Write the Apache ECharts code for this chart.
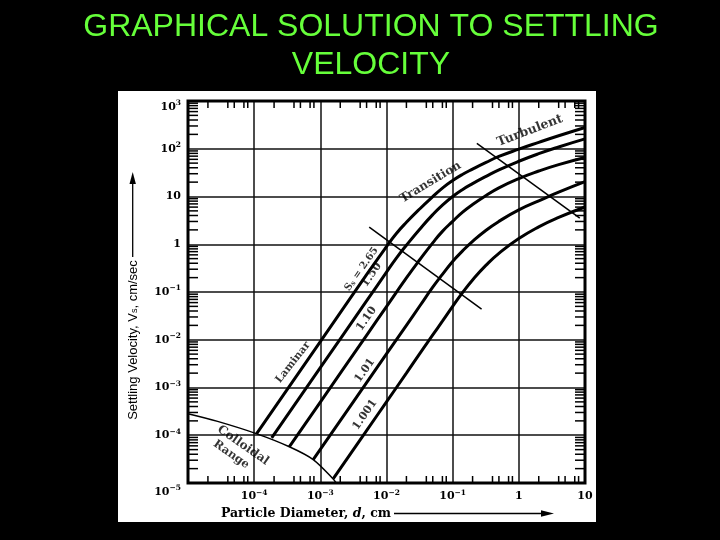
<!DOCTYPE html>
<html><head><meta charset="utf-8">
<script src="https://cdn.jsdelivr.net/npm/echarts@6/dist/echarts.min.js"></script>
<style>html,body{margin:0;padding:0;background:#000;}#c{width:720px;height:540px;}</style>
</head><body><div id="c"></div>
<script>
// ---------- data ----------
const titleText = 'GRAPHICAL SOLUTION TO SETTLING\nVELOCITY';
const xTickExps = [-5, -4, -3, -2, -1, 0, 1];
const yTickExps = [-5, -4, -3, -2, -1, 0, 1, 2, 3];
const minorMultX = [2, 4, 5, 7, 8];
const minorMultY = [2, 3, 4, 5, 6, 7, 8, 9];

// particle diameter d (cm), settling velocity Vs (cm/s)
const sg265 = [[1.09e-4, 1.08e-4], [1e-3, 9.1e-3], [5.0e-3, 0.23], [0.01, 0.89], [0.014, 1.66], [0.02, 2.88], [0.032, 5.55], [0.05, 9.9], [0.07, 15.0], [0.1, 21.6], [0.14, 28.9], [0.2, 37.5], [0.32, 51.8], [0.5, 68.9], [1, 98], [2, 136], [4, 187], [10, 279]];
const sg150 = [[1.84e-4, 8.8e-5], [1e-3, 2.6e-3], [5.0e-3, 0.065], [0.01, 0.26], [0.014, 0.507], [0.02, 0.955], [0.032, 2.09], [0.05, 4.17], [0.07, 6.6], [0.1, 10], [0.14, 13.9], [0.2, 18.6], [0.32, 26.4], [0.5, 36.1], [1, 54.7], [2, 78.9], [4, 109], [10, 161]];
const sg110 = [[3.39e-4, 5.7e-5], [1e-3, 4.95e-4], [5.0e-3, 0.0124], [0.01, 0.0495], [0.02, 0.197], [0.032, 0.479], [0.05, 1.07], [0.07, 1.86], [0.1, 3.02], [0.14, 4.65], [0.2, 6.8], [0.32, 10.5], [0.5, 15.2], [1, 23.8], [2, 34.2], [4, 46.6], [10, 65.6]];
const sg101 = [[7.8e-4, 3.1e-5], [3.0e-3, 4.55e-4], [0.01, 5.06e-3], [0.02, 0.0201], [0.032, 0.0515], [0.05, 0.126], [0.07, 0.234], [0.1, 0.437], [0.14, 0.716], [0.2, 1.15], [0.32, 1.97], [0.5, 3.01], [1, 5.25], [2, 8.1], [4, 12.3], [10, 20.4]];
const sg1001 = [[1.57e-3, 1.23e-5], [5.0e-3, 1.25e-4], [0.01, 5.0e-4], [0.02, 2.0e-3], [0.032, 5.2e-3], [0.05, 0.0126], [0.07, 0.0245], [0.1, 0.05], [0.14, 0.096], [0.2, 0.179], [0.32, 0.365], [0.5, 0.645], [1, 1.315], [2, 2.31], [4, 3.64], [10, 6.03]];
const colloidal = [[1e-5, 2.82e-4], [2.8e-5, 1.95e-4], [1.1e-4, 1.07e-4], [3.4e-4, 5.75e-5], [7.8e-4, 3.1e-5], [1.55e-3, 1.23e-5], [1.74e-3, 1e-5]];
const laminarLimit = [[5.48e-3, 2.28], [0.2735, 0.0439]];
const turbulentLimit = [[0.232, 130], [8.34, 3.52]];

const labelTexts = ['Transition', 'Turbulent', 'Laminar', 'Colloidal', 'Range', 'S{sub|s} = 2.65', '1.50', '1.10', '1.01', '1.001'];
const labelAnchors = [[0.0464, 19.9], [1.47, 239], [3.86e-4, 3.35e-3], [6.78e-5, 6.15e-5], [4.51e-5, 3.93e-5], [4.2e-3, 0.30], [5.96e-3, 0.229], [5.0e-3, 0.0275], [4.72e-3, 2.27e-3], [4.72e-3, 2.7e-4]];

// ---------- styling ----------
const labelRot = [31, 21, 52, -35, -35, 55, 55, 55, 55, 55];
const labelSize = [12, 12.5, 10.5, 12, 11.5, 10, 11, 11, 11, 11];
const serif = 'DejaVu Serif';

function expLabel(e) {
  if (e === 0) return '{b|1}';
  if (e === 1) return '{b|10}';
  return '{b|10}{s|' + (e < 0 ? '\u2212' : '') + Math.abs(e) + '}';
}
const tickRich = {
  b: {fontFamily: serif, fontWeight: 'bold', fontSize: 11, color: '#000', lineHeight: 15},
  s: {fontFamily: serif, fontWeight: 'bold', fontSize: 7.5, color: '#000', lineHeight: 8, verticalAlign: 'top'},
  g6: {fontSize: 6, lineHeight: 12},
  g9: {fontSize: 6, lineHeight: 18}
};

const minorData = [];
xTickExps.slice(0, -1).forEach(k => minorMultX.forEach(m => minorData.push([m * Math.pow(10, k), 1, 0])));
yTickExps.slice(0, -1).forEach(k => minorMultY.forEach(m => minorData.push([1, m * Math.pow(10, k), 1])));

const xMin = Math.pow(10, xTickExps[0]), xMax = Math.pow(10, xTickExps[xTickExps.length - 1]);
const yMin = Math.pow(10, yTickExps[0]), yMax = Math.pow(10, yTickExps[yTickExps.length - 1]);

function curve(data, w, s) {
  return {type: 'line', data: data, symbol: 'none', smooth: s,
    lineStyle: {color: '#000', width: w}, silent: true, z: 5};
}

const chart = echarts.init(document.getElementById('c'), null, {renderer: 'canvas'});
chart.setOption({
  backgroundColor: '#000',
  animation: false,
  title: {text: titleText, left: 366, top: 3, textAlign: 'center',
    textStyle: {color: '#66ff3a', fontFamily: 'Liberation Sans', fontWeight: 'normal', fontSize: 32, lineHeight: 38}},
  graphic: [
    {type: 'rect', z: -100, silent: true, shape: {x: 118, y: 91, width: 478, height: 431}, style: {fill: '#fff'}},
    {type: 'text', z: 10, x: 133, y: 340, rotation: Math.PI / 2,
      style: {text: '{n|Settling Velocity, V}{sb|s}{n|, cm/sec}', align: 'center', verticalAlign: 'middle',
        rich: {n: {fontFamily: 'Liberation Sans', fontSize: 13, fill: '#000'}, sb: {fontFamily: 'Liberation Sans', fontSize: 9, fill: '#000', lineHeight: 9, verticalAlign: 'bottom'}}}},
    {type: 'line', z: 10, shape: {x1: 132.7, y1: 257, x2: 132.7, y2: 180}, style: {stroke: '#000', lineWidth: 1.3}},
    {type: 'polygon', z: 10, shape: {points: [[132.7, 172], [129.5, 184], [135.9, 184]]}, style: {fill: '#000'}},
    {type: 'text', z: 10, x: 306, y: 513.5,
      style: {text: '{n|Particle Diameter, }{i|d}{n|, cm}', align: 'center', verticalAlign: 'middle',
        rich: {n: {fontFamily: serif, fontWeight: 'bold', fontSize: 12.5, fill: '#000'}, i: {fontFamily: serif, fontWeight: 'bold', fontStyle: 'italic', fontSize: 12.5, fill: '#000'}}}},
    {type: 'line', z: 10, shape: {x1: 394, y1: 513.5, x2: 546, y2: 513.5}, style: {stroke: '#000', lineWidth: 1.3}},
    {type: 'polygon', z: 10, shape: {points: [[554, 513.5], [541, 510.3], [541, 516.7]]}, style: {fill: '#000'}}
  ],
  grid: {left: 188, top: 101, width: 397, height: 382, show: true, borderColor: '#000', borderWidth: 3, z: 6},
  xAxis: {type: 'log', logBase: 10, min: xMin, max: xMax, splitNumber: 6,
    axisLine: {show: false}, axisTick: {show: false},
    splitLine: {show: true, lineStyle: {color: '#111', width: 1.5}},
    axisLabel: {margin: 6, formatter: v => { const e = Math.round(Math.log10(v)); return e === xTickExps[0] ? '' : expLabel(e); }, rich: tickRich}},
  yAxis: {type: 'log', logBase: 10, min: yMin, max: yMax, splitNumber: 8,
    axisLine: {show: false}, axisTick: {show: false},
    splitLine: {show: true, lineStyle: {color: '#111', width: 1.5}},
    axisLabel: {margin: 7, formatter: v => {
      const e = Math.round(Math.log10(v));
      if (e === yTickExps[yTickExps.length - 1]) return '{g6| }\n' + expLabel(e);
      if (e === yTickExps[0]) return '{g9| }\n' + expLabel(e);
      return expLabel(e);
    }, rich: tickRich}},
  series: [
    curve(sg265, 3, 0.5), curve(sg150, 3, 0.5), curve(sg110, 3, 0.5), curve(sg101, 3, 0.5), curve(sg1001, 3, 0.5),
    curve(colloidal, 1.5, 0.3),
    {type: 'line', data: laminarLimit, symbol: 'none', lineStyle: {color: '#000', width: 1.5}, silent: true, z: 5},
    {type: 'line', data: turbulentLimit, symbol: 'none', lineStyle: {color: '#000', width: 1.5}, silent: true, z: 5},
    {type: 'custom', silent: true, clip: false, z: 7, data: minorData,
      renderItem: (params, api) => {
        const st = {stroke: '#000', lineWidth: 1.5};
        if (api.value(2) === 0) {
          const b = api.coord([api.value(0), yMin]), t = api.coord([api.value(0), yMax]);
          return {type: 'group', children: [
            {type: 'line', shape: {x1: b[0], y1: b[1], x2: b[0], y2: b[1] - 7}, style: st},
            {type: 'line', shape: {x1: t[0], y1: t[1], x2: t[0], y2: t[1] + 7}, style: st}]};
        }
        const l = api.coord([xMin, api.value(1)]), r = api.coord([xMax, api.value(1)]);
        return {type: 'group', children: [
          {type: 'line', shape: {x1: l[0], y1: l[1], x2: l[0] + 10, y2: l[1]}, style: st},
          {type: 'line', shape: {x1: r[0], y1: r[1], x2: r[0] - 10, y2: r[1]}, style: st}]};
      }},
    {type: 'scatter', symbolSize: 0, silent: true, z: 8,
      data: labelAnchors.map((p, i) => ({value: p, label: {show: true, position: 'inside', formatter: labelTexts[i], rotate: labelRot[i],
        align: 'center', verticalAlign: 'middle', fontFamily: serif, fontWeight: 'bold', fontSize: labelSize[i], color: '#000',
        rich: {sub: {fontFamily: serif, fontWeight: 'bold', fontSize: 7, color: '#000', lineHeight: 8, verticalAlign: 'bottom'}}}}))}
  ]
});
</script></body></html>
